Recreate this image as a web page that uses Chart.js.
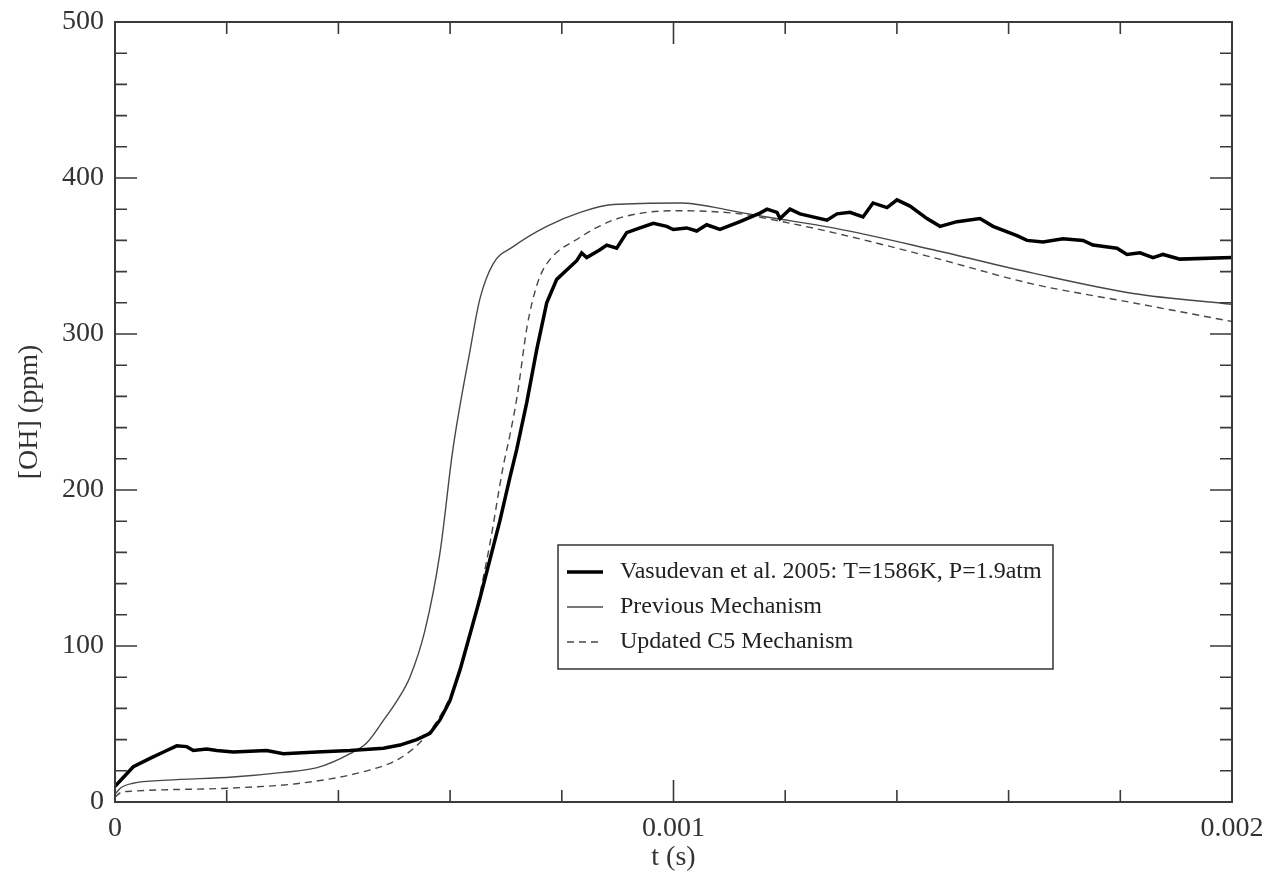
<!DOCTYPE html>
<html>
<head>
<meta charset="utf-8">
<script src="https://cdn.jsdelivr.net/npm/chart.js@4/dist/chart.umd.min.js"></script>
<style>
  html, body { margin: 0; padding: 0; background: #fff; }
  #wrap { width: 1268px; height: 873px; }
</style>
</head>
<body>
<div id="wrap"><canvas id="oh"></canvas></div>
<script>
// time (s) and [OH] (ppm)

// Vasudevan et al. 2005 measurement
const expT = [0, 0.0000328, 0.0000627, 0.0000926, 0.0001105, 0.0001284, 0.0001402, 0.0001642, 0.0001821, 0.0002119,
  0.0002716, 0.0003014, 0.0003611, 0.0004208, 0.0004805, 0.0005103, 0.0005402, 0.000564, 0.0005819, 0.0005998,
  0.000618, 0.000636, 0.000653, 0.000671, 0.000689, 0.000707, 0.0007193, 0.0007372, 0.0007551, 0.000773,
  0.0007909, 0.0008088, 0.0008267, 0.0008356, 0.0008446, 0.0008684, 0.0008804, 0.0008983, 0.0009162, 0.00094,
  0.0009639, 0.0009878, 0.0009996, 0.0010236, 0.0010415, 0.0010594, 0.0010832, 0.0011191, 0.0011549, 0.0011674,
  0.0011853, 0.0011907, 0.0012086, 0.0012265, 0.0012748, 0.0012927, 0.001316, 0.0013393, 0.0013572, 0.0013823,
  0.0014002, 0.0014235, 0.0014539, 0.0014772, 0.0015076, 0.0015488, 0.0015721, 0.001615, 0.001633, 0.0016616,
  0.0016974, 0.0017332, 0.0017511, 0.0017941, 0.001812, 0.0018353, 0.0018586, 0.0018765, 0.0019069, 0.002];
const expOH = [10, 22.6, 28, 33, 36, 35.5, 33, 34, 33, 32,
  33, 31, 32, 33, 34.5, 36.5, 40, 44, 52.6, 65,
  85, 108, 130, 155, 180, 208, 226, 256, 290, 320,
  335, 341, 347, 352, 349, 354, 357, 355, 365, 368,
  371, 369, 367, 368, 366, 370, 367, 372, 377.5, 380,
  378, 374, 380, 377, 373, 377, 378, 375, 384, 381,
  386, 382, 374, 369, 372, 374, 369, 363, 360, 359,
  361, 360, 357, 355, 351, 352, 349, 351, 348, 349];

// previous mechanism
const prevT = [0, 0.00001, 0.000032, 0.000093, 0.000211, 0.000301, 0.000362, 0.000421, 0.000451, 0.00048,
  0.000505, 0.000528, 0.000555, 0.000582, 0.000605, 0.000636, 0.000653, 0.000677, 0.000713, 0.000773,
  0.000833, 0.000892, 0.001012, 0.001119, 0.001167, 0.001286, 0.001465, 0.001644, 0.001823, 0.002];
const prevOH = [5, 9, 12, 14, 16, 19, 22, 31, 38, 52,
  65, 80, 110, 160, 226, 290, 322, 345, 356, 369,
  378, 383, 384, 378, 375, 368, 354, 339, 326, 319];

// updated C5 mechanism
const newT = [0, 0.00001, 0.000032, 0.000211, 0.000331, 0.000451, 0.00051, 0.000551, 0.000582, 0.000609,
  0.000627, 0.000645, 0.000671, 0.000695, 0.000707, 0.00072, 0.000738, 0.000756, 0.000773, 0.000833,
  0.000892, 0.000953, 0.001012, 0.001119, 0.001167, 0.001286, 0.001465, 0.001644, 0.001823, 0.002];
const newOH = [3, 6, 7, 9, 12, 20, 28, 40, 55, 75,
  95, 120, 165, 215, 235, 260, 305, 332, 345, 362,
  373, 378, 379, 377, 374, 365, 349, 332, 320, 308];

const xTicks = [0, 0.001, 0.002];
const yTicks = [0, 100, 200, 300, 400, 500];

const labels = ['Vasudevan et al. 2005: T=1586K, P=1.9atm', 'Previous Mechanism', 'Updated C5 Mechanism'];

function pts(ts, vs) {
  return ts.map((t, i) => ({x: t, y: vs[i]}));
}

const serif = '"Liberation Serif", "DejaVu Serif", serif';

// box round the plot, inward ticks, and the legend box
const framePlugin = {
  id: 'frame',
  afterDatasetsDraw(chart) {
    const ctx = chart.ctx;
    const a = chart.chartArea;
    const x = chart.scales.x, y = chart.scales.y;
    ctx.save();
    ctx.strokeStyle = '#3a3a3a';
    ctx.lineWidth = 1.6;
    ctx.beginPath();
    for (let i = 0; i <= 10; i++) {
      const px = x.getPixelForValue(i * 0.0002);
      const len = i % 5 === 0 ? 22 : 12;
      ctx.moveTo(px, a.bottom); ctx.lineTo(px, a.bottom - len);
      ctx.moveTo(px, a.top); ctx.lineTo(px, a.top + len);
    }
    for (let v = 0; v <= 500; v += 20) {
      const py = y.getPixelForValue(v);
      const len = v % 100 === 0 ? 22 : 12;
      ctx.moveTo(a.left, py); ctx.lineTo(a.left + len, py);
      ctx.moveTo(a.right, py); ctx.lineTo(a.right - len, py);
    }
    ctx.stroke();
    ctx.lineWidth = 2;
    ctx.strokeRect(a.left, a.top, a.right - a.left, a.bottom - a.top);

    // legend
    const lx = a.left + 443, ly = a.top + 523, lw = 495, lh = 124;
    ctx.fillStyle = '#fff';
    ctx.fillRect(lx, ly, lw, lh);
    ctx.lineWidth = 1.5;
    ctx.strokeStyle = '#333';
    ctx.strokeRect(lx, ly, lw, lh);
    ctx.font = '24px ' + serif;
    ctx.textBaseline = 'middle';
    chart.data.datasets.forEach((ds, i) => {
      const yy = ly + 27 + i * 35;
      ctx.beginPath();
      ctx.strokeStyle = ds.borderColor;
      ctx.lineWidth = ds.borderWidth;
      ctx.setLineDash(ds.borderDash || []);
      ctx.moveTo(lx + 9, yy); ctx.lineTo(lx + 45, yy);
      ctx.stroke();
      ctx.setLineDash([]);
      ctx.fillStyle = '#222';
      ctx.fillText(ds.label, lx + 62, yy);
    });
    ctx.restore();
  }
};

window.onload = function() {
  const ctx = document.querySelector('#oh');

  new Chart(ctx, {
    type: 'scatter',
    data: {
      datasets: [
        {
          label: labels[0],
          data: pts(expT, expOH),
          showLine: true,
          borderColor: '#000',
          borderWidth: 3.5,
          pointRadius: 0
        },
        {
          label: labels[1],
          data: pts(prevT, prevOH),
          showLine: true,
          borderColor: '#484848',
          borderWidth: 1.4,
          pointRadius: 0,
          cubicInterpolationMode: 'monotone'
        },
        {
          label: labels[2],
          data: pts(newT, newOH),
          showLine: true,
          borderColor: '#484848',
          borderWidth: 1.4,
          borderDash: [7, 5],
          pointRadius: 0,
          cubicInterpolationMode: 'monotone'
        }
      ]
    },
    options: {
      responsive: true,
      maintainAspectRatio: false,
      animation: false,
      layout: { padding: { top: 22, right: 36, left: 0, bottom: 0 } },
      plugins: {
        legend: { display: false },
        tooltip: { enabled: false }
      },
      scales: {
        x: {
          type: 'linear',
          min: 0,
          max: 0.002,
          afterBuildTicks: (s) => { s.ticks = xTicks.map(v => ({value: v})); },
          afterFit: (s) => { s.height = 71; s.paddingLeft = 0; s.paddingRight = 0; },
          grid: { display: false, drawTicks: false },
          border: { display: false },
          ticks: {
            padding: 10,
            color: '#333',
            font: { family: serif, size: 28 },
            maxRotation: 0,
            callback: (v) => v === 0 ? '0' : String(+v.toFixed(3))
          },
          title: {
            display: true,
            text: 't (s)',
            color: '#333',
            font: { family: serif, size: 28, lineHeight: 1.0 },
            padding: { top: 0, bottom: 1 }
          }
        },
        y: {
          type: 'linear',
          min: 0,
          max: 500,
          afterBuildTicks: (s) => { s.ticks = yTicks.map(v => ({value: v})); },
          afterFit: (s) => { s.width = 115; s.paddingTop = 0; s.paddingBottom = 0; },
          grid: { display: false, drawTicks: false },
          border: { display: false },
          ticks: {
            padding: 11,
            color: '#333',
            font: { family: serif, size: 28 }
          },
          title: {
            display: true,
            text: '[OH] (ppm)',
            color: '#333',
            font: { family: serif, size: 28 },
            padding: { top: 13, bottom: 0 }
          }
        }
      }
    },
    plugins: [framePlugin]
  });
};
</script>
</body>
</html>
